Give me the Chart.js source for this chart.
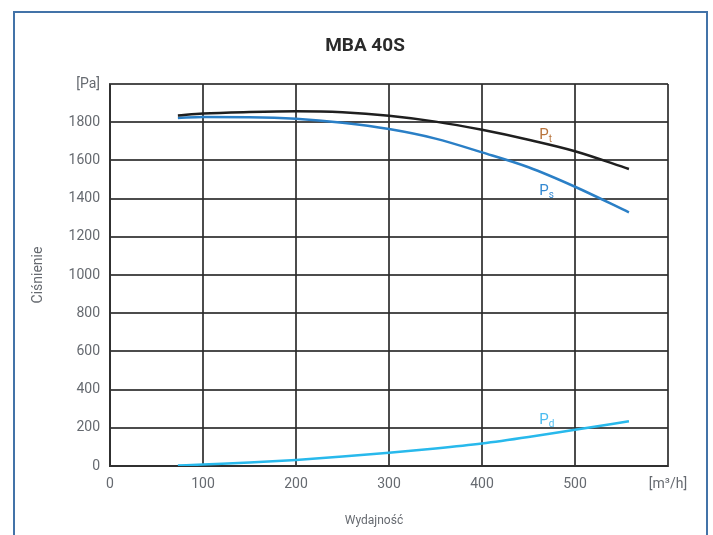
<!DOCTYPE html>
<html>
<head>
<meta charset="utf-8">
<script src="https://cdn.jsdelivr.net/npm/chart.js@4/dist/chart.umd.min.js"></script>
<style>
  html, body { margin: 0; padding: 0; background: #fff; }
  #wrap { position: relative; width: 713px; height: 535px; overflow: hidden; }
  #frame { position: absolute; left: 13px; top: 11px; width: 691px; height: 600px;
           border: 2px solid #4373a8; border-bottom: none; }
  #c { position: absolute; left: 0; top: 0; }
</style>
</head>
<body>
<div id="wrap">
  <div id="frame"></div>
  <canvas id="c" width="713" height="535"></canvas>
</div>
<script>
// Airflow (m3/h) and pressures (Pa) for the MBA 40S fan
const airflow   = [73, 100, 150, 200, 250, 300, 350, 400, 450, 500, 558];
const pTotal    = [1835, 1845, 1853, 1857, 1852, 1834, 1803, 1760, 1708, 1648, 1555];
const pStatic   = [1822, 1827, 1826, 1818, 1797, 1764, 1714, 1642, 1564, 1462, 1328];
const pDynamic  = [2, 8, 18, 32, 50, 70, 92, 118, 152, 190, 234];

const xTicks = [0, 100, 200, 300, 400, 500, 600];
const yTicks = [0, 200, 400, 600, 800, 1000, 1200, 1400, 1600, 1800, 2000];
const xUnit = '[m³/h]';
const yUnit = '[Pa]';

// Curve names drawn next to each line: main letter, subscript, anchor (airflow, pressure)
const curveNames = ['P', 'P', 'P'];
const curveSubs  = ['t', 's', 'd'];
const nameQ      = [468, 468, 468];
const nameP      = [1712, 1418, 220];

const FONT = 'Roboto, "DejaVu Sans", sans-serif';
const GRID = 'rgba(45,45,45,0.85)';
const TXT = '#666a70';

const toPoints = ys => airflow.map((q, i) => ({ x: q, y: ys[i] }));

const textPlugin = {
  id: 'texts',
  afterDraw(chart) {
    const ctx = chart.ctx;
    const xs = chart.scales.x, ys = chart.scales.y;
    ctx.save();
    // title
    ctx.fillStyle = '#2b2b2b';
    ctx.font = 'bold 19px ' + FONT;
    ctx.textAlign = 'center';
    ctx.textBaseline = 'middle';
    ctx.fillText('MBA 40S', 365, 46);
    // axis titles
    ctx.fillStyle = TXT;
    ctx.font = '12px ' + FONT;
    ctx.fillText('Wydajność', 374, 521);
    ctx.save();
    ctx.translate(38, 275);
    ctx.rotate(-Math.PI / 2);
    ctx.font = '14px ' + FONT;
    ctx.fillText('Ciśnienie', 0, 0);
    ctx.restore();
    // curve names with subscripts
    const colors = ['#b8743c', '#3489d2', '#4cbcf0'];
    for (let i = 0; i < curveNames.length; i++) {
      const px = xs.getPixelForValue(nameQ[i]);
      const py = ys.getPixelForValue(nameP[i]);
      ctx.fillStyle = colors[i];
      ctx.textAlign = 'left';
      ctx.textBaseline = 'alphabetic';
      ctx.font = '15px ' + FONT;
      ctx.fillText(curveNames[i], px - 6, py);
      const w = ctx.measureText(curveNames[i]).width;
      ctx.font = '10px ' + FONT;
      ctx.fillText(curveSubs[i], px - 6 + w, py + 3);
    }
    ctx.restore();
  }
};

const lineDs = (label, data, color) => ({
  label, data: toPoints(data), borderColor: color, borderWidth: 2.5,
  pointRadius: 0, fill: false, cubicInterpolationMode: 'monotone'
});

new Chart(document.getElementById('c'), {
  type: 'line',
  data: {
    datasets: [
      lineDs('Pt', pTotal, '#1f1f1f'),
      lineDs('Ps', pStatic, '#2a7fc6'),
      lineDs('Pd', pDynamic, '#28b9ec')
    ]
  },
  options: {
    responsive: false,
    animation: false,
    devicePixelRatio: 1,
    layout: { padding: { left: 0, top: 84, right: 45, bottom: 0 } },
    plugins: { legend: { display: false }, tooltip: { enabled: false }, title: { display: false } },
    scales: {
      x: {
        type: 'linear', min: 0, max: 600,
        afterBuildTicks: s => { s.ticks = xTicks.map(v => ({ value: v })); },
        afterFit: s => { s.height = 69; },
        grid: { color: GRID, lineWidth: 2, drawTicks: false },
        border: { color: GRID, width: 2 },
        ticks: {
          color: TXT, font: { family: FONT, size: 14 }, padding: 10, maxRotation: 0,
          callback: v => v === 600 ? xUnit : String(v)
        }
      },
      y: {
        type: 'linear', min: 0, max: 2000,
        afterBuildTicks: s => { s.ticks = yTicks.map(v => ({ value: v })); },
        afterFit: s => { s.width = 110; },
        grid: { color: GRID, lineWidth: 2, drawTicks: false },
        border: { color: GRID, width: 2 },
        ticks: {
          color: TXT, font: { family: FONT, size: 14 }, padding: 10,
          callback: v => v === 2000 ? yUnit : String(v)
        }
      }
    }
  },
  plugins: [textPlugin]
});
</script>
</body>
</html>
